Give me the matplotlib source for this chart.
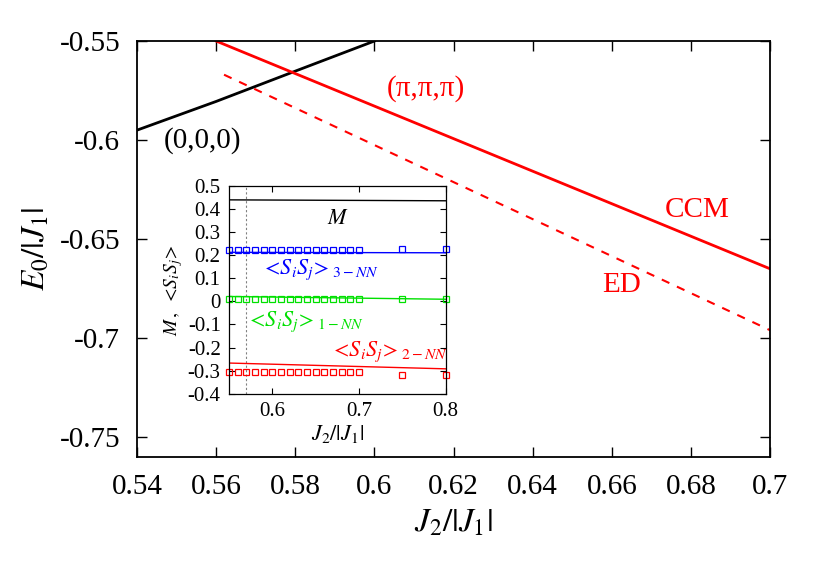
import numpy as np
import matplotlib
matplotlib.use('Agg')
import matplotlib.pyplot as plt
from matplotlib.ticker import FuncFormatter

plt.rcParams['font.family'] = ['Liberation Serif', 'DejaVu Serif']
plt.rcParams['mathtext.fontset'] = 'stix'
plt.rcParams['axes.unicode_minus'] = False

# Curva principal: energia del estado fundamental
x_000 = [0.54, 0.56, 0.58, 0.60]
e_000 = [-0.595, -0.5805, -0.5652, -0.55]

x_ccm = [0.56, 0.70]
e_ccm = [-0.55, -0.665]

x_ed = [0.562, 0.70]
e_ed = [-0.567, -0.696]

# Inset: magnetizacion y correlaciones
x_lin = [0.55, 0.80]
m_lin = [0.439, 0.435]
nn3_lin = [0.212, 0.210]
nn1_lin = [0.021, 0.009]
nn2_lin = [-0.267, -0.292]

x_sq = [0.55, 0.56, 0.57, 0.58, 0.59, 0.60, 0.61, 0.62, 0.63, 0.64, 0.65,
        0.66, 0.67, 0.68, 0.69, 0.70, 0.75, 0.80]
nn3_sq = [0.223] * 16 + [0.227, 0.227]
nn1_sq = [0.011] * 16 + [0.008, 0.008]
nn2_sq = [-0.305] * 16 + [-0.318, -0.318]

x_trans = 0.57


def etiqueta(v, p):
    v = round(v, 4) + 0.0
    if abs(v) < 1e-9:
        return '0'
    return '%g' % v


fmt = FuncFormatter(etiqueta)

fig = plt.figure(figsize=(8.3, 5.86), dpi=100)
ax = fig.add_axes([0.165, 0.22, 0.763, 0.710])

ax.plot(x_000, e_000, color='black', lw=2)
ax.plot(x_ccm, e_ccm, color='red', lw=2)
ax.plot(x_ed, e_ed, color='red', lw=1.5, ls=(0, (4, 4)))

ax.text(0.5565, -0.6, '(0,0,0)', fontsize=21, ha='center', va='center')
ax.text(0.613, -0.574, '(π,π,π)', fontsize=21, color='red', ha='center', va='center')
ax.text(0.6815, -0.6355, 'CCM', fontsize=21, color='red', ha='center', va='center')
ax.text(0.6625, -0.673, 'ED', fontsize=21, color='red', ha='center', va='center')

ax.set_xlim(0.54, 0.70)
ax.set_ylim(-0.76, -0.55)
ax.set_xticks(np.arange(0.54, 0.7001, 0.02))
ax.set_yticks([-0.75, -0.7, -0.65, -0.6, -0.55])
ax.xaxis.set_major_formatter(fmt)
ax.yaxis.set_major_formatter(fmt)
ax.tick_params(direction='in', top=True, right=True, length=7, width=1,
               labelsize=21, pad=12)
ax.set_xlabel(r'$J_2/|J_1|$', fontsize=24, labelpad=6)
ax.set_ylabel(r'$E_0/|J_1|$', fontsize=24, labelpad=6)
for s in ax.spines.values():
    s.set_linewidth(1.3)

# Inset
axi = fig.add_axes([0.276, 0.328, 0.261, 0.355])
axi.plot(x_lin, m_lin, color='black', lw=1)
axi.plot(x_lin, nn3_lin, color='blue', lw=1)
axi.plot(x_lin, nn1_lin, color='#00e000', lw=1)
axi.plot(x_lin, nn2_lin, color='red', lw=1)
axi.plot(x_sq, nn3_sq, 's', mfc='none', mec='blue', ms=4.5, mew=0.9, clip_on=False)
axi.plot(x_sq, nn1_sq, 's', mfc='none', mec='#00e000', ms=4.5, mew=0.9, clip_on=False)
axi.plot(x_sq, nn2_sq, 's', mfc='none', mec='red', ms=4.5, mew=0.9, clip_on=False)
axi.axvline(x_trans, color='gray', lw=0.8, ls=(0, (2, 2)), zorder=1)

axi.text(0.676, 0.353, r'$M$', fontsize=16, ha='center', va='center')
axi.text(0.655, 0.135, r'$<\!S_iS_j\!>_{3-NN}$', fontsize=16, color='blue',
         ha='center', va='center')
axi.text(0.638, -0.09, r'$<\!S_iS_j\!>_{1-NN}$', fontsize=16, color='#00e000',
         ha='center', va='center')
axi.text(0.735, -0.22, r'$<\!S_iS_j\!>_{2-NN}$', fontsize=16, color='red',
         ha='center', va='center')

axi.set_xlim(0.55, 0.80)
axi.set_ylim(-0.4, 0.5)
axi.set_xticks([0.6, 0.7, 0.8])
axi.set_yticks(np.arange(-0.4, 0.501, 0.1))
axi.xaxis.set_major_formatter(fmt)
axi.yaxis.set_major_formatter(fmt)
axi.tick_params(direction='in', top=True, right=True, length=4, width=0.8,
                labelsize=15, pad=6)
axi.set_xlabel(r'$J_2/|J_1|$', fontsize=16, labelpad=1)
axi.set_ylabel(r'$M\,,\ <\!S_iS_j\!>$', fontsize=14, labelpad=2)
for s in axi.spines.values():
    s.set_linewidth(0.9)

fig.savefig('out.png', dpi=100)
